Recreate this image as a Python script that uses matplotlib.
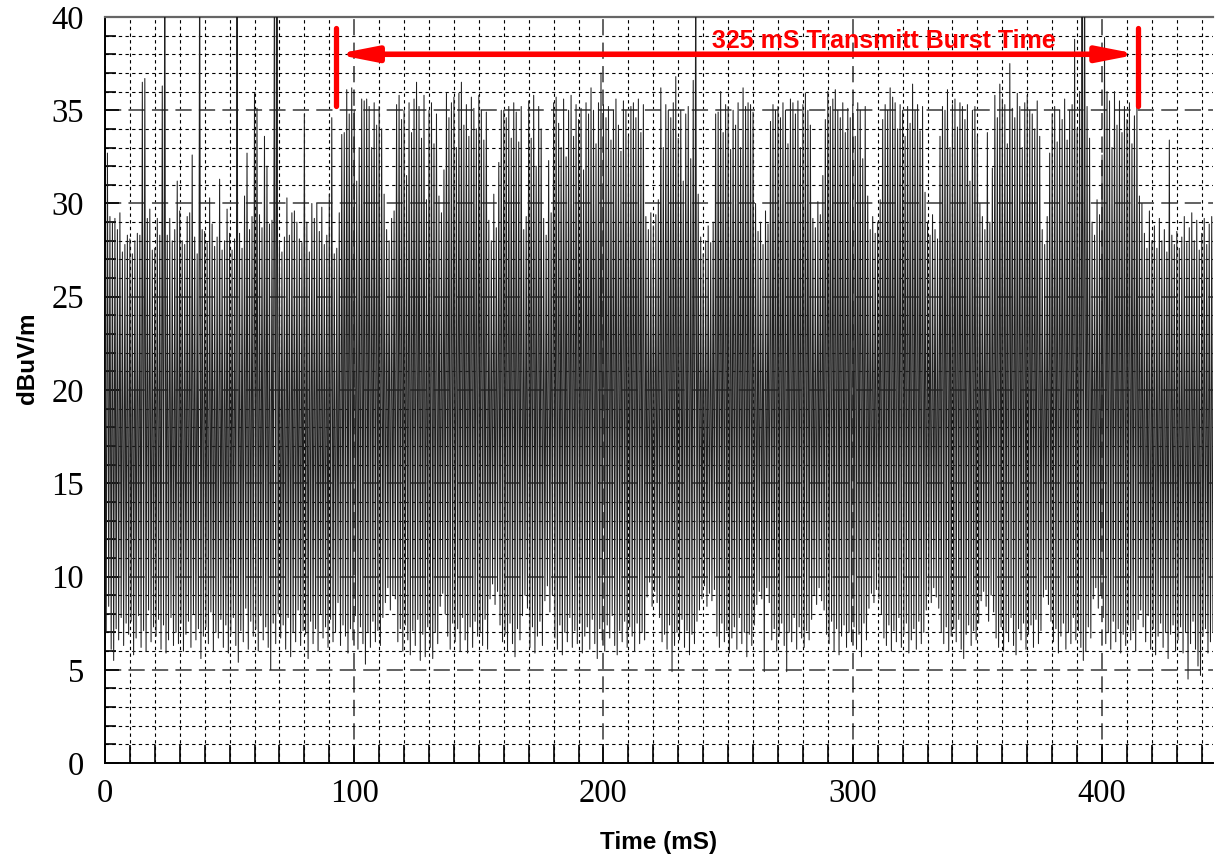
import numpy as np
import matplotlib
matplotlib.use("Agg")
import matplotlib.pyplot as plt
from matplotlib.ticker import MultipleLocator

# peak level of each 1 ms sweep (dBuV/m), 0..444 ms
peak_db = [
    27.0, 32.7, 29.3, 29.0, 29.2, 28.6, 29.5, 27.4, 27.8, 28.3,
    28.1, 27.3, 28.0, 28.4, 28.3, 36.5, 36.7, 29.2, 29.7, 27.5,
    27.6, 29.2, 28.3, 36.3, 45.0, 28.3, 29.2, 28.0, 28.6, 31.2,
    29.6, 28.0, 27.8, 29.3, 29.5, 32.6, 28.2, 27.3, 45.0, 28.6,
    28.5, 27.9, 30.3, 28.9, 27.7, 28.2, 31.3, 27.5, 28.0, 29.7,
    28.4, 27.5, 28.1, 45.0, 28.4, 27.6, 30.4, 32.7, 28.6, 29.3,
    35.9, 35.1, 29.4, 28.7, 33.6, 32.0, 28.9, 29.1, 45.0, 44.0,
    28.0, 27.4, 28.2, 30.3, 28.3, 29.5, 29.6, 29.0, 28.1, 27.9,
    34.8, 29.0, 27.4, 30.0, 29.2, 30.0, 28.5, 29.8, 27.8, 28.3,
    30.5, 34.6, 27.3, 27.6, 29.5, 33.7, 33.8, 36.1, 34.8, 36.2,
    35.0, 31.2, 33.0, 35.6, 35.5, 35.6, 35.2, 33.0, 35.4, 34.2,
    35.2, 34.0, 30.5, 28.6, 28.0, 29.2, 29.6, 35.3, 35.8, 34.5,
    35.0, 31.5, 35.4, 33.8, 35.6, 36.5, 35.2, 33.5, 35.8, 30.2,
    35.0, 35.4, 33.2, 34.8, 30.4, 29.5, 31.8, 35.9, 34.6, 35.4,
    35.7, 33.0, 35.9, 36.5, 34.2, 35.3, 33.6, 35.7, 35.1, 34.0,
    35.8, 35.0, 33.4, 34.9, 29.1, 28.0, 30.5, 28.7, 32.2, 35.0,
    35.0, 34.6, 35.2, 33.5, 35.4, 34.9, 33.3, 35.2, 28.6, 29.3,
    35.5, 33.5, 35.8, 32.0, 35.2, 34.0, 29.2, 28.3, 32.3, 29.5,
    35.4, 35.7, 34.3, 33.0, 35.6, 32.5, 35.0, 35.8, 33.6, 35.3,
    34.5, 35.1, 31.8, 35.4, 34.8, 36.2, 35.0, 33.2, 35.4, 37.0,
    35.3, 34.6, 35.2, 33.4, 35.0, 35.6, 34.2, 32.8, 35.5, 35.0,
    33.6, 35.2, 35.4, 34.6, 35.6, 33.8, 35.3, 29.3, 28.6, 29.5,
    28.8, 29.4, 30.2, 36.2, 33.0, 35.3, 35.0, 34.6, 35.4, 36.8,
    33.5, 35.0, 31.2, 34.8, 35.2, 32.4, 36.6, 45.0, 30.5, 28.2,
    27.3, 28.0, 28.8, 27.9, 29.0, 34.8, 34.9, 36.0, 33.8, 35.3,
    35.2, 32.9, 35.0, 34.2, 35.4, 33.0, 36.2, 35.2, 35.4, 35.3,
    34.9, 30.0, 28.5, 29.0, 27.8, 29.6, 28.9, 34.4, 35.3, 35.0,
    35.2, 34.6, 35.4, 35.0, 33.2, 35.6, 35.4, 34.8, 35.5, 33.0,
    35.3, 35.9, 35.0, 34.2, 29.2, 28.7, 30.1, 29.4, 31.5, 34.5,
    36.0, 35.2, 35.6, 36.1, 35.0, 34.6, 35.4, 33.8, 35.1, 34.6,
    35.3, 33.6, 35.4, 35.0, 32.4, 35.2, 30.4, 28.6, 29.3, 28.4,
    29.0, 30.2, 34.5, 35.3, 35.0, 36.2, 35.7, 35.4, 34.0, 35.3,
    35.0, 33.6, 35.2, 34.3, 36.4, 35.0, 35.3, 33.9, 35.2, 30.6,
    29.0, 28.3, 29.4, 28.6, 28.1, 33.6, 35.2, 35.0, 36.1, 33.0,
    35.3, 35.6, 34.1, 35.4, 35.2, 34.5, 35.3, 31.2, 35.0, 35.2,
    33.6, 30.0, 29.3, 28.6, 33.8, 29.0, 31.9, 35.8, 34.6, 36.4,
    35.6, 35.3, 33.2, 37.5, 35.1, 34.6, 35.9, 35.2, 33.0, 35.4,
    35.8, 35.0, 34.8, 34.0, 35.5, 33.6, 28.6, 27.8, 29.3, 32.7,
    34.8, 35.2, 33.3, 35.0, 34.5, 35.6, 33.4, 35.0, 35.3, 38.8,
    34.0, 36.0, 45.0, 45.0, 35.2, 33.5, 29.0, 28.3, 30.2, 29.4,
    32.6, 38.9, 36.0, 35.5, 33.0, 36.0, 34.2, 35.5, 33.8, 35.2,
    34.5, 35.4, 33.2, 34.7, 35.2, 30.4, 30.0, 28.4, 27.6, 29.6,
    28.0, 28.8, 27.6, 29.2, 28.0, 28.6, 27.4, 33.4, 28.3, 27.8,
    28.5, 27.6, 28.2, 29.3, 27.9, 28.7, 29.5, 28.0, 29.1, 27.5,
    28.4, 29.2, 27.8, 28.9, 29.3,
]

# low level between the peaks (dBuV/m), 0.5 ms after each peak
trough_db = [
    7.0, 8.4, 6.1, 5.5, 7.2, 6.6, 7.8, 6.3, 7.5, 6.9,
    7.6, 5.8, 6.7, 7.9, 6.2, 7.1, 6.0, 8.2, 6.5, 7.3,
    6.8, 7.7, 6.1, 7.4, 5.9, 6.6, 7.8, 6.3, 7.0, 6.4,
    7.5, 6.0, 6.9, 7.6, 6.2, 8.0, 6.6, 7.2, 5.6, 6.8,
    7.3, 6.4, 8.1, 6.0, 7.0, 6.7, 7.7, 6.2, 7.4, 5.9,
    6.9, 7.8, 6.3, 5.4, 7.1, 6.5, 8.3, 6.1, 7.6, 6.8,
    7.2, 6.0, 7.9, 6.6, 7.3, 6.2, 5.0, 7.5, 6.4, 8.0,
    6.7, 7.4, 6.1, 7.8, 5.7, 7.0, 6.5, 8.2, 6.3, 7.1,
    6.9, 5.6, 7.6, 6.4, 7.2, 6.0, 8.0, 6.7, 7.3, 6.2,
    7.7, 6.5, 7.0, 8.6, 6.3, 7.4, 6.8, 5.9, 7.2, 6.6,
    7.9, 6.1, 7.3, 6.4, 5.3, 7.0, 6.2, 7.6, 6.5, 7.1,
    6.3, 7.8, 8.6, 9.4, 8.2, 9.0, 8.8, 6.5, 7.2, 6.0,
    7.4, 6.6, 5.8, 7.1, 6.3, 7.7, 5.5, 6.9, 5.7, 7.3,
    6.2, 5.6, 7.0, 6.4, 8.4, 9.1, 8.0, 6.8, 6.1, 7.5,
    6.5, 7.2, 6.0, 7.8, 6.6, 5.9, 7.3, 6.2, 7.6, 6.8,
    7.0, 6.3, 7.7, 6.1, 8.8, 9.6, 8.5, 9.2, 7.4, 6.5,
    6.9, 6.0, 7.5, 6.4, 5.7, 7.2, 6.6, 7.9, 9.0, 8.3,
    6.2, 7.3, 5.9, 6.8, 7.6, 6.3, 8.7, 9.5, 8.1, 9.0,
    6.7, 6.1, 7.4, 5.8, 7.0, 6.5, 7.8, 6.2, 7.1, 6.4,
    7.5, 5.9, 6.8, 7.3, 6.1, 7.7, 6.4, 5.6, 7.2, 6.6,
    6.0, 7.4, 6.7, 7.9, 6.3, 5.8, 7.1, 6.5, 7.6, 6.2,
    7.3, 6.8, 6.0, 7.5, 6.4, 7.0, 6.6, 8.9, 9.7, 8.4,
    9.2, 8.6, 7.8, 6.5, 6.9, 6.1, 7.4, 4.9, 6.3, 7.0,
    6.6, 7.7, 6.2, 7.1, 5.8, 6.9, 6.4, 7.6, 8.2, 8.8,
    9.5, 8.4, 9.1, 8.7, 9.3, 6.8, 6.2, 7.5, 6.5, 7.1,
    5.9, 6.7, 7.3, 6.1, 7.8, 6.4, 7.0, 5.7, 6.9, 6.3,
    7.4, 8.5, 9.2, 8.8, 4.9, 9.4, 8.6, 6.6, 7.2, 6.0,
    6.8, 7.5, 6.3, 4.9, 7.0, 6.5, 7.8, 6.1, 7.3, 6.7,
    6.2, 7.1, 6.6, 7.7, 9.0, 8.5, 9.4, 8.7, 8.2, 6.9,
    6.4, 7.6, 6.0, 7.2, 5.8, 6.8, 7.4, 6.2, 7.0, 6.5,
    7.3, 6.1, 6.9, 5.7, 7.5, 6.6, 8.3, 9.1, 8.6, 9.3,
    8.8, 8.0, 6.7, 6.3, 7.4, 6.0, 7.1, 6.5, 7.8, 6.2,
    6.9, 7.5, 5.9, 6.6, 7.2, 6.1, 7.6, 6.4, 7.0, 8.2,
    9.1, 8.6, 9.4, 8.9, 8.3, 7.0, 6.4, 7.3, 6.0, 6.8,
    7.2, 6.5, 7.7, 6.1, 5.6, 6.9, 7.4, 6.3, 7.1, 6.6,
    7.5, 8.7, 9.2, 8.4, 7.6, 9.0, 8.1, 6.7, 6.2, 7.3,
    6.0, 7.0, 6.5, 7.8, 6.3, 5.8, 7.2, 6.6, 7.5, 6.1,
    6.9, 7.4, 6.2, 7.7, 6.4, 7.1, 8.9, 9.3, 8.5, 7.6,
    6.5, 7.2, 5.9, 6.8, 7.5, 6.1, 7.0, 6.4, 7.8, 6.6,
    7.1, 6.2, 5.5, 6.0, 7.3, 6.7, 8.8, 9.4, 8.3, 9.0,
    7.8, 6.4, 7.0, 6.1, 7.6, 6.5, 7.2, 5.9, 6.9, 6.3,
    7.4, 6.6, 7.1, 6.0, 7.7, 8.2, 7.3, 6.5, 7.9, 6.1,
    7.2, 5.8, 6.8, 7.5, 6.2, 7.0, 5.6, 6.9, 7.4, 6.0,
    6.6, 7.3, 5.9, 7.0, 4.5, 6.4, 7.6, 6.1, 5.2, 4.7,
    6.8, 7.2, 5.9, 6.5, 7.0,
]

burst_start = 92.6
burst_end = 414.6
burst_label = "325 mS Transmitt Burst Time"

# interleave peaks and troughs into one trace
t_peak = np.arange(len(peak_db), dtype=float)
t = np.empty(2 * len(peak_db))
v = np.empty(2 * len(peak_db))
t[0::2] = t_peak
t[1::2] = t_peak + 0.5
v[0::2] = peak_db
v[1::2] = trough_db

fig = plt.figure(figsize=(12.16, 8.61), dpi=100)
ax = fig.add_axes([0.0863, 0.1138, 0.9112, 0.8665])

ax.plot(t, v, color="#202020", lw=0.75, zorder=3)

ax.set_xlim(0, 444.5)
ax.set_ylim(0, 40)

ax.xaxis.set_major_locator(MultipleLocator(100))
ax.xaxis.set_minor_locator(MultipleLocator(10))
ax.yaxis.set_major_locator(MultipleLocator(5))
ax.yaxis.set_minor_locator(MultipleLocator(1))

ax.set_axisbelow(True)
ax.grid(which="minor", color="black", linestyle=(0, (3, 3)), lw=0.8)
ax.grid(which="major", color="#555555", linestyle=(0, (9, 4)), lw=1.3)

ax.tick_params(which="both", direction="in", width=1.2, colors="black")
ax.tick_params(axis="x", which="major", length=14, pad=11)
ax.tick_params(axis="x", which="minor", length=13)
ax.tick_params(axis="y", which="major", length=10, pad=15)
ax.tick_params(axis="y", which="minor", length=8)

for lab in ax.get_xticklabels() + ax.get_yticklabels():
    lab.set_fontfamily("Liberation Serif")
    lab.set_fontsize(23.5)

ax.spines["right"].set_visible(False)
ax.spines["top"].set_color("#666666")
ax.spines["top"].set_linewidth(1.6)
ax.spines["left"].set_linewidth(1.4)
ax.spines["bottom"].set_linewidth(1.4)

ax.set_xlabel("Time (mS)", fontfamily="Liberation Sans", fontweight="bold",
              fontsize=17.5, va="center")
ax.set_ylabel("dBuV/m", fontfamily="Liberation Sans", fontweight="bold",
              fontsize=17.5, va="center")
ax.xaxis.set_label_coords(0.5, -0.107)
ax.yaxis.set_label_coords(-0.07, 0.543)

# burst duration marker
red = "#ff0000"
ax.plot([burst_start, burst_start], [35.2, 39.4], color=red, lw=3.8,
        solid_capstyle="round", zorder=5)
ax.plot([burst_end, burst_end], [35.2, 39.4], color=red, lw=3.8,
        solid_capstyle="round", zorder=5)
ax.annotate("", xy=(burst_start, 38.0), xytext=(burst_end, 38.0),
            arrowprops=dict(arrowstyle="<|-|>,head_length=2.3,head_width=0.45",
                            color=red, lw=4, shrinkA=0, shrinkB=0),
            zorder=5)
ax.text(312.5, 38.35, burst_label, color=red, fontfamily="Liberation Sans",
        fontweight="bold", fontsize=18, ha="center", va="baseline", zorder=6)

fig.savefig("out.png", dpi=100)
